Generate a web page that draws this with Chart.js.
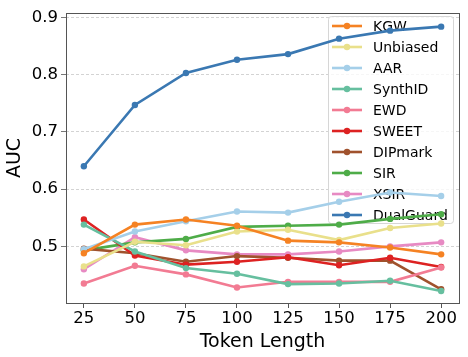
<!DOCTYPE html>
<html>
<head>
<meta charset="utf-8">
<script src="https://cdn.jsdelivr.net/npm/chart.js@4"></script>
<style>
  body { margin: 0; background: #fff; }
  canvas { display: block; }
</style>
</head>
<body>
<canvas id="myChart" width="468" height="357"></canvas>
<script>
// Token lengths on the x axis
const tokenLengths = [25, 50, 75, 100, 125, 150, 175, 200];
const yTicks = [0.5, 0.6, 0.7, 0.8, 0.9];

// AUC per method
const kgw       = [0.488, 0.538, 0.547, 0.536, 0.510, 0.507, 0.498, 0.486];
const unbiased  = [0.465, 0.508, 0.502, 0.526, 0.529, 0.511, 0.532, 0.540];
const aar       = [0.495, 0.526, 0.544, 0.561, 0.559, 0.578, 0.594, 0.588];
const synthid   = [0.538, 0.491, 0.462, 0.452, 0.434, 0.435, 0.440, 0.422];
const ewd       = [0.435, 0.466, 0.451, 0.428, 0.438, 0.438, 0.438, 0.463];
const sweet     = [0.547, 0.484, 0.468, 0.473, 0.481, 0.467, 0.480, 0.464];
const dipmark   = [0.496, 0.488, 0.473, 0.483, 0.480, 0.475, 0.475, 0.425];
const sir       = [0.493, 0.507, 0.513, 0.534, 0.536, 0.538, 0.548, 0.556];
const xsir      = [0.460, 0.516, 0.493, 0.486, 0.486, 0.491, 0.500, 0.507];
const dualguard = [0.640, 0.747, 0.803, 0.826, 0.836, 0.863, 0.877, 0.884];

const series = [
    ['KGW', kgw, '#f58223'],
    ['Unbiased', unbiased, '#e9e08b'],
    ['AAR', aar, '#a5cfe9'],
    ['SynthID', synthid, '#66bf9f'],
    ['EWD', ewd, '#f27b93'],
    ['SWEET', sweet, '#dd2222'],
    ['DIPmark', dipmark, '#a0522d'],
    ['SIR', sir, '#4eac48'],
    ['XSIR', xsir, '#e78ac3'],
    ['DualGuard', dualguard, '#3a78b2']
];

const FONT = 'DejaVu Sans';

const datasets = series.map(function(s) {
    return {
        label: s[0],
        data: tokenLengths.map(function(x, i) { return {x: x, y: s[1][i]}; }),
        borderColor: s[2],
        backgroundColor: s[2],
        borderWidth: 2.6,
        pointRadius: 3.2,
        pointHoverRadius: 3.2,
        pointBorderWidth: 0,
        tension: 0
    };
});

// legend sits inside the plot, under the lines
const insideLegend = {
    id: 'insideLegend',
    beforeDatasetsDraw: function(chart) {
        const ctx = chart.ctx;
        const x0 = 328, y0 = 16, w = 125, h = 207;
        ctx.save();
        ctx.fillStyle = 'rgba(255,255,255,0.8)';
        ctx.strokeStyle = '#d6d6d6';
        ctx.lineWidth = 1;
        ctx.beginPath();
        ctx.roundRect(x0 + 0.5, y0 + 0.5, w, h, 3);
        ctx.fill();
        ctx.stroke();
        ctx.font = '14px ' + FONT;
        ctx.textBaseline = 'middle';
        chart.data.datasets.forEach(function(ds, i) {
            const y = 26 + i * 21;
            ctx.strokeStyle = ds.borderColor;
            ctx.lineWidth = 2.6;
            ctx.beginPath();
            ctx.moveTo(332, y);
            ctx.lineTo(362, y);
            ctx.stroke();
            ctx.fillStyle = ds.borderColor;
            ctx.beginPath();
            ctx.arc(347, y, 3.2, 0, Math.PI * 2);
            ctx.fill();
            ctx.fillStyle = '#000';
            ctx.fillText(ds.label, 373, y + 1);
        });
        ctx.restore();
    },
    afterDraw: function(chart) {
        const a = chart.chartArea;
        const ctx = chart.ctx;
        ctx.save();
        ctx.strokeStyle = '#555';
        ctx.lineWidth = 1;
        ctx.strokeRect(Math.round(a.left) + 0.5, Math.round(a.top) + 0.5,
                       Math.round(a.right - a.left), Math.round(a.bottom - a.top));
        ctx.restore();
    }
};

document.addEventListener('DOMContentLoaded', function() {
    var ctx = document.getElementById('myChart').getContext('2d');
    new Chart(ctx, {
        type: 'line',
        data: { datasets: datasets },
        options: {
            responsive: false,
            animation: false,
            layout: { padding: { top: 8, right: 9, left: 0, bottom: 0 } },
            plugins: { legend: { display: false }, tooltip: { enabled: false } },
            scales: {
                x: {
                    type: 'linear',
                    min: 16.25,
                    max: 208.75,
                    afterBuildTicks: function(scale) {
                        scale.ticks = tokenLengths.map(function(v) { return {value: v}; });
                    },
                    afterFit: function(scale) { scale.height = 54; },
                    grid: { drawOnChartArea: false, tickLength: 5, color: '#555' },
                    border: { display: false },
                    ticks: { color: '#000', padding: 1, maxRotation: 0, font: { family: FONT, size: 16.5 } },
                    title: { display: true, text: 'Token Length', color: '#000', padding: { top: 0 },
                             font: { family: FONT, size: 19 } }
                },
                y: {
                    min: 0.401,
                    max: 0.908,
                    afterBuildTicks: function(scale) {
                        scale.ticks = yTicks.map(function(v) { return {value: v}; });
                    },
                    afterFit: function(scale) { scale.width = 66; },
                    grid: { color: '#c8c8c8', tickColor: '#555', tickLength: 5, lineWidth: 0.8,
                            borderDash: [3, 2] },
                    border: { display: false, dash: [3, 2] },
                    ticks: { color: '#000', padding: 3, font: { family: FONT, size: 16.5 },
                             callback: function(v) { return v.toFixed(1); } },
                    title: { display: true, text: 'AUC', color: '#000', padding: { bottom: 2 },
                             font: { family: FONT, size: 19 } }
                }
            }
        },
        plugins: [insideLegend]
    });
});
</script>
</body>
</html>
